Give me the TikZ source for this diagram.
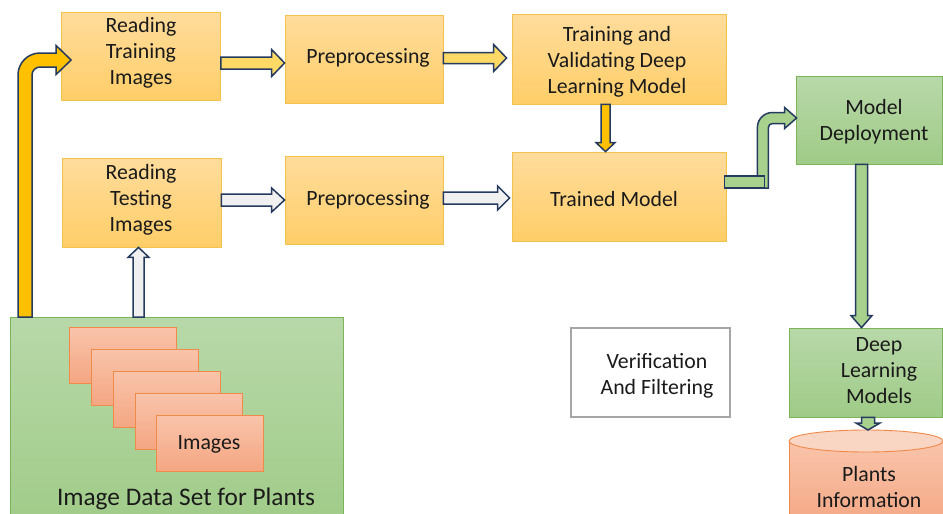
\documentclass[tikz,border=0pt]{standalone}
\usepackage{fontspec}
\setmainfont{Carlito}
\usetikzlibrary{calc}
\definecolor{otop}{HTML}{FFDC9C}
\definecolor{obot}{HTML}{FFCE68}
\definecolor{oborder}{HTML}{F2C14E}
\definecolor{gtop}{HTML}{B8D8A9}
\definecolor{gbot}{HTML}{9FCB87}
\definecolor{gborder}{HTML}{7CB45A}
\definecolor{ctop}{HTML}{F9C4AB}
\definecolor{cbot}{HTML}{F4A682}
\definecolor{cborder}{HTML}{F08A4A}
\definecolor{cyltop}{HTML}{F9D5C4}
\definecolor{navy}{HTML}{243A5E}
\definecolor{yellowA}{HTML}{FFD966}
\definecolor{goldA}{HTML}{FFC000}
\definecolor{grayA}{HTML}{F0F0F0}
\definecolor{greenA}{HTML}{A9D18E}
\definecolor{vborder}{HTML}{A6A6A6}
\definecolor{txt}{HTML}{1A1A1A}

% horizontal block arrow: y from #1, tip x from #2
\newcommand{\harr}[6]{%
  \draw[barrow,fill=#3] let \p1=(#1),\p2=(#2) in
    (\x1,\y1+#4) -- (\x2-#6,\y1+#4) -- (\x2-#6,\y1+#5) -- (\x2,\y1)
    -- (\x2-#6,\y1-#5) -- (\x2-#6,\y1-#4) -- (\x1,\y1-#4) -- cycle;}
% vertical block arrow pointing down: x from #1, tip y from #2
\newcommand{\darr}[6]{%
  \draw[barrow,fill=#3] let \p1=(#1),\p2=(#2) in
    (\x1-#4,\y1) -- (\x1-#4,\y2+#6) -- (\x1-#5,\y2+#6) -- (\x1,\y2)
    -- (\x1+#5,\y2+#6) -- (\x1+#4,\y2+#6) -- (\x1+#4,\y1) -- cycle;}
% vertical block arrow pointing up
\newcommand{\uarr}[6]{%
  \draw[barrow,fill=#3] let \p1=(#1),\p2=(#2) in
    (\x1-#4,\y1) -- (\x1-#4,\y2-#6) -- (\x1-#5,\y2-#6) -- (\x1,\y2)
    -- (\x1+#5,\y2-#6) -- (\x1+#4,\y2-#6) -- (\x1+#4,\y1) -- cycle;}
% bent block arrow: up from #1, then right to tip #2; #4 half shaft, #5 half head, #6 head length, #7 outer radius
\newcommand{\barr}[7]{%
  \draw[barrow,fill=#3] let \p1=(#1),\p2=(#2) in
    (\x1-#4,\y1) -- (\x1-#4,\y2+#4-#7) arc[start angle=180,end angle=90,radius=#7]
    -- (\x2-#6,\y2+#4) -- (\x2-#6,\y2+#5) -- (\x2,\y2) -- (\x2-#6,\y2-#5)
    -- (\x2-#6,\y2-#4) -- (\x1-#4+#7,\y2-#4) arc[start angle=90,end angle=180,radius=#7-2*#4]
    -- (\x1+#4,\y1) -- cycle;}

\tikzset{
  obox/.style={rectangle, draw=oborder, line width=0.8pt, top color=otop, bottom color=obot, inner sep=0pt},
  gbox/.style={rectangle, draw=gborder, line width=0.8pt, top color=gtop, bottom color=gbot, inner sep=0pt},
  card/.style={rectangle, draw=cborder, line width=0.9pt, top color=ctop, bottom color=cbot,
    minimum width=107pt, minimum height=56pt, inner sep=0pt},
  vbox/.style={rectangle, draw=vborder, line width=1.4pt, fill=white, inner sep=0pt},
  lbl/.style={text=txt, align=center, inner sep=0pt, font=\fontsize{21.8}{26}\selectfont},
  biglbl/.style={text=txt, align=center, inner sep=0pt, font=\fontsize{25.3}{29}\selectfont},
  barrow/.style={draw=navy, line width=1.5pt, line join=miter},
}

\begin{document}
\begin{tikzpicture}[x=1pt,y=-1pt]
\useasboundingbox (0,0) rectangle (943,514);
\clip (0,0) rectangle (943,514);

% boxes
\node[obox, minimum width=159pt, minimum height=88pt] (rt) at (141,56) {};
\node[obox, minimum width=158pt, minimum height=88pt] (p1) at (364,59) {};
\node[obox, minimum width=214pt, minimum height=90pt] (tv) at (619,59) {};
\node[obox, minimum width=159pt, minimum height=89pt] (rte) at (141.5,202.5) {};
\node[obox, minimum width=158pt, minimum height=88pt] (p2) at (364,200) {};
\node[obox, minimum width=214pt, minimum height=89pt] (tm) at (619,196.5) {};
\node[gbox, minimum width=146pt, minimum height=88pt] (md) at (869,120) {};
\node[vbox, minimum width=159pt, minimum height=89pt] (ver) at (650.5,372.5) {};
\node[gbox, minimum width=153pt, minimum height=89pt] (dlm) at (865.5,372.5) {};
\node[gbox, minimum width=333pt, minimum height=215pt, anchor=north west] (ds) at (10,317) {};

% image cards
\node[card] (c1) at (122.5,355) {};
\node[card] (c2) at (144.5,377) {};
\node[card] (c3) at (166.5,399) {};
\node[card] (c4) at (188.5,421) {};
\node[card] (c5) at (210,443) {};

% cylinder (plants information)
\coordinate (cyl) at (866,441);
\fill[top color=ctop, bottom color=cbot] (789,441) -- (789,530) -- (943,530) -- (943,441) -- cycle;
\draw[cborder, line width=0.9pt] (789,441) -- (789,530) (943,441) -- (943,530);
\draw[cborder, line width=0.9pt, fill=cyltop] (cyl) ellipse[x radius=77pt, y radius=11pt];
\coordinate (cyltopp) at ([yshift=11pt]cyl);

% texts
\node[lbl] (rt-t) at (141,53) {Reading\\Training\\Images};
\node[lbl] (p1-t) at (368,58) {Preprocessing};
\node[lbl] (tv-t) at (617,62) {Training and\\Validating Deep\\Learning Model};
\node[lbl] (rte-t) at (141,200) {Reading\\Testing\\Images};
\node[lbl] (p2-t) at (368,200) {Preprocessing};
\node[lbl] (tm-t) at (614,199) {Trained Model};
\node[lbl] (md-t) at (874,121.5) {Model\\Deployment};
\node[lbl] (ver-t) at (657,376) {Verification\\And Filtering};
\node[lbl] (dlm-t) at (879,371) {Deep\\Learning\\Models};
\node[lbl] (cyl-t) at (869,487) {Plants\\Information};
\node[lbl] (c5-t) at (209,444) {Images};
\node[biglbl] (ds-t) at (186,499) {Image Data Set for Plants};

% connectors (block arrows)
\coordinate (yb0) at ([xshift=15pt]ds.north west);
\coordinate (yb1) at ([xshift=10pt,yshift=-4pt]rt.west);
\barr{yb0}{yb1}{goldA}{7pt}{14.5pt}{15pt}{22pt}

\coordinate (a1s) at ([yshift=-7pt]rt.east);
\harr{a1s}{p1.west}{yellowA}{6pt}{13.5pt}{13pt}
\coordinate (a2s) at ([yshift=1pt]p1.east);
\coordinate (a2e) at ([xshift=-5pt]tv.west);
\harr{a2s}{a2e}{yellowA}{5.5pt}{13.5pt}{13pt}

\coordinate (t1s) at ([yshift=2.5pt]rte.east);
\harr{t1s}{p2.west}{grayA}{6pt}{12pt}{13pt}
\coordinate (t2s) at ([yshift=2pt]p2.east);
\coordinate (t2e) at ([xshift=-2pt]tm.west);
\harr{t2s}{t2e}{grayA}{6pt}{12pt}{12pt}

\coordinate (dys) at ([xshift=-13.5pt]tv.south);
\darr{dys}{tm.north}{goldA}{4.5pt}{9.5pt}{9pt}

\coordinate (upx) at ([xshift=-3pt]rte.south);
\coordinate (upb) at (upx |- ds.north);
\uarr{upb}{rte.south}{grayA}{5.5pt}{10.5pt}{10pt}

\coordinate (gb0) at ([xshift=36.5pt,yshift=8.5pt]tm.east);
\coordinate (gb1) at ([xshift=1pt,yshift=2pt]md.west);
\barr{gb0}{gb1}{greenA}{5.5pt}{10.5pt}{12pt}{15pt}
\draw[barrow, fill=greenA] ([xshift=-2pt,yshift=20.5pt]tm.east) rectangle ([xshift=38pt,yshift=8.5pt]tm.east);

\coordinate (gds) at ([xshift=-7.5pt]md.south);
\darr{gds}{dlm.north}{greenA}{6pt}{10.5pt}{12pt}

\coordinate (gss) at ([xshift=2.5pt]dlm.south);
\darr{gss}{cyltopp}{greenA}{6.5pt}{12pt}{7pt}
\end{tikzpicture}
\end{document}
